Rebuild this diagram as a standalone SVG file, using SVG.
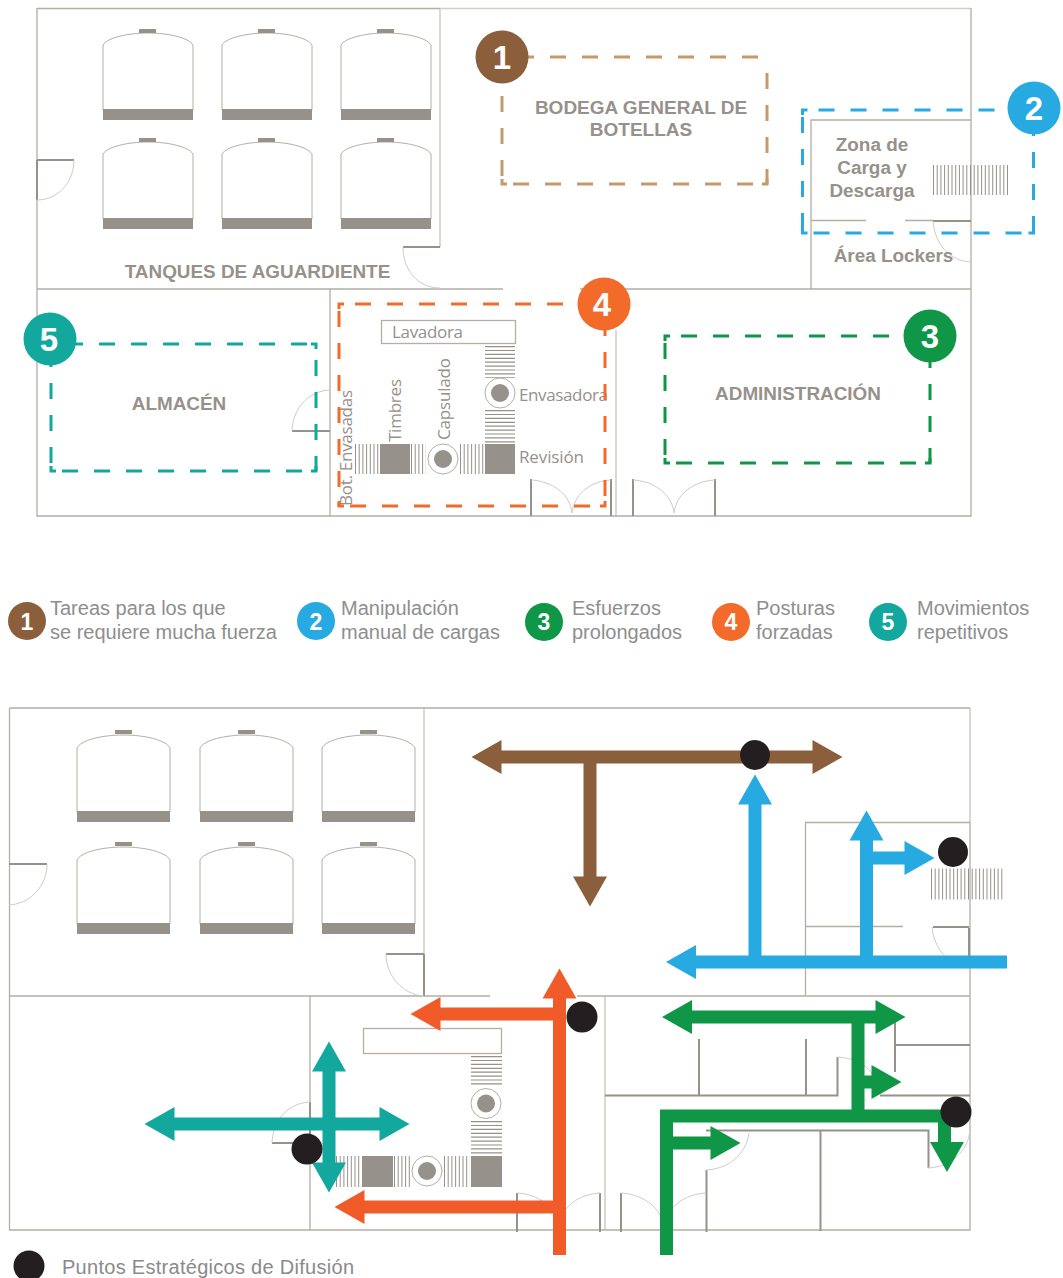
<svg xmlns="http://www.w3.org/2000/svg" width="1063" height="1278" viewBox="0 0 1063 1278">
<style>
.w{fill:none;stroke:#b3aea6;stroke-width:1.3}
.wl{fill:none;stroke:#d2cfca;stroke-width:1.6}
.t{fill:none;stroke:#96918a;stroke-width:2}
.a{fill:none;stroke:#cfccc7;stroke-width:1}
.s{fill:#96918a}
.hv{fill:none;stroke:#96918a;stroke-dasharray:1 2.7}
.hh{fill:none;stroke:#96918a;stroke-dasharray:1.2 2.7}
.ring{fill:#fff;stroke:#b3aea6;stroke-width:1}
.lb{font-family:"Liberation Sans",Arial,sans-serif;font-weight:700;fill:#96918a;text-anchor:middle}
.my{font-family:"Open Sans",sans-serif;fill:#96918a;font-size:17px}
.lg{font-family:"Liberation Sans",Arial,sans-serif;fill:#8e8e8e;font-size:20px}
.n{font-family:"Liberation Sans",Arial,sans-serif;font-weight:700;fill:#fff;text-anchor:middle}
.d{fill:none;stroke-width:3;stroke-dasharray:16 16;stroke-dashoffset:16}
.c{fill:none;stroke-width:3}
.ar{fill:none;stroke-width:13}
.ar line{stroke-width:13}
</style>
<defs>
<symbol id="tank" overflow="visible" viewBox="0 0 90 92" width="90" height="92">
<path d="M0 16C4 9 24 4 45 4S86 9 90 16V81M0 16V81" fill="none" stroke="#b3aea6" stroke-width="1"/>
<rect x="36" y="0" width="17" height="4" class="s"/><rect x="0" y="80" width="90" height="11" class="s"/>
</symbol>
<symbol id="tankb" overflow="visible" viewBox="0 0 93 92" width="93" height="92">
<path d="M0 18C4 10 25 5 46.500 5S89 10 93 18V82M0 18V82" fill="none" stroke="#b3aea6" stroke-width="1"/>
<rect x="38" y="0" width="17" height="4" class="s"/><rect x="0" y="81" width="93" height="11" class="s"/>
</symbol>
<marker id="mB" markerUnits="userSpaceOnUse" markerWidth="31" markerHeight="34" refX="0.500" refY="17" orient="auto-start-reverse" overflow="visible"><path d="M0 0L30 17L0 34Z" fill="#8b5e3c"/></marker>
<marker id="mC" markerUnits="userSpaceOnUse" markerWidth="31" markerHeight="34" refX="0.500" refY="17" orient="auto-start-reverse" overflow="visible"><path d="M0 0L30 17L0 34Z" fill="#27aae1"/></marker>
<marker id="mG" markerUnits="userSpaceOnUse" markerWidth="31" markerHeight="34" refX="0.500" refY="17" orient="auto-start-reverse" overflow="visible"><path d="M0 0L30 17L0 34Z" fill="#0f9647"/></marker>
<marker id="mO" markerUnits="userSpaceOnUse" markerWidth="31" markerHeight="34" refX="0.500" refY="17" orient="auto-start-reverse" overflow="visible"><path d="M0 0L30 17L0 34Z" fill="#f15a29"/></marker>
<marker id="mT" markerUnits="userSpaceOnUse" markerWidth="31" markerHeight="34" refX="0.500" refY="17" orient="auto-start-reverse" overflow="visible"><path d="M0 0L30 17L0 34Z" fill="#13a89e"/></marker>
</defs>

<g id="plano-superior">
<path class="wl" d="M440 8.500H971M440 8V247M616 330V516"/>
<path class="w" d="M37 8.500H440M37 8V516H971V8M37 289H503M580 289H971M330 289V516M811 289V120H971M811 220.500H866M905 220.500H933"/>
<path class="t" d="M37 160H74M37 160V200M403 247H440M933 221H971M292 431H330M531 479V516M611 479V516M633 479V516M715 479V516"/>
<path class="a" d="M74 160C74 182 58 200 37 200M403 247C403 270 418 288 440 288M933 221C935 245 950 261 971 262M292 431C293 408 308 391 330 390M531 480C552 481 570 494 572 513C574 494 591 481 611 480M633 480C654 481 672 494 674 513C676 494 694 481 715 480"/>
<use href="#tank" x="103" y="29"/><use href="#tank" x="222" y="29"/><use href="#tank" x="341" y="29"/>
<use href="#tank" x="103" y="138"/><use href="#tank" x="222" y="138"/><use href="#tank" x="341" y="138"/>
<rect x="381.500" y="320.500" width="134" height="23" fill="#fff" class="w"/>
<line class="hv" x1="933" y1="180" x2="1008" y2="180" stroke-width="30"/>
<g id="linea-envasado-sup">
<line class="hh" x1="500" y1="346" x2="500" y2="378" stroke-width="30"/>
<line class="hh" x1="500" y1="410" x2="500" y2="444" stroke-width="30"/>
<line class="hv" x1="355" y1="459" x2="379" y2="459" stroke-width="30"/>
<line class="hv" x1="411" y1="459" x2="426" y2="459" stroke-width="30"/>
<line class="hv" x1="460" y1="459" x2="484" y2="459" stroke-width="30"/>
<rect class="s" x="380" y="444" width="30" height="30"/><rect class="s" x="485" y="444" width="30" height="30"/>
<circle class="ring" cx="500" cy="393" r="15"/><circle class="s" cx="500" cy="393" r="9"/>
<circle class="ring" cx="443" cy="459" r="15"/><circle class="s" cx="443" cy="459" r="9"/>
</g>
<text class="lb" font-size="18.900" x="257.500" y="278">TANQUES DE AGUARDIENTE</text>
<text class="lb" font-size="19" x="641" y="114">BODEGA GENERAL DE</text>
<text class="lb" font-size="19" x="641" y="136">BOTELLAS</text>
<text class="lb" font-size="18.900" x="872" y="151">Zona de</text>
<text class="lb" font-size="18.900" x="872" y="174">Carga y</text>
<text class="lb" font-size="18.900" x="872" y="197">Descarga</text>
<text class="lb" font-size="18.900" x="893.500" y="262">Área Lockers</text>
<text class="lb" font-size="18.900" x="179" y="410">ALMACÉN</text>
<text class="lb" font-size="18.900" x="798" y="400">ADMINISTRACIÓN</text>
<text class="my" x="392" y="338" textLength="71">Lavadora</text>
<text class="my" x="519" y="401" textLength="89">Envasadora</text>
<text class="my" x="519" y="463" textLength="65">Revisión</text>
<text class="my" transform="translate(351.500 506) rotate(-90)" textLength="116">Bot. Envasadas</text>
<text class="my" transform="translate(400.500 442) rotate(-90)" textLength="63">Timbres</text>
<text class="my" transform="translate(450 440) rotate(-90)" textLength="82">Capsulado</text>
</g>

<g id="zonas-riesgo">
<g id="zona-1" stroke="#c49a6c"><path class="d" d="M502 57H767M502 48V184M767 57V184M497 184H767"/><path class="c" d="M767 179V184H762M502 179V184H507"/><circle cx="502" cy="57" r="26.500" fill="#8b5e3c" stroke="none"/><text class="n" x="502" y="68.500" font-size="33" stroke="none">1</text></g>
<g id="zona-2" stroke="#27aae1"><path class="d" d="M802.500 110H1033.500M802.500 101V233M1033.500 104V233M797.500 233H1033.500"/><path class="c" d="M802.500 115V110H807.500M802.500 228V233H807.500M1033.500 228V233H1028.500"/><circle cx="1034" cy="108" r="26.500" fill="#27aae1" stroke="none"/><text class="n" x="1034" y="119.500" font-size="33" stroke="none">2</text></g>
<g id="zona-3" stroke="#0f9647"><path class="d" d="M665 336H930M665 327V463M930 336V463M660 463H930"/><path class="c" d="M665 341V336H670M665 458V463H670M930 458V463H925"/><circle cx="930" cy="336" r="26.500" fill="#0f9647" stroke="none"/><text class="n" x="930" y="347.500" font-size="33" stroke="none">3</text></g>
<g id="zona-4" stroke="#f26b2a"><path class="d" d="M339 304H605M339 295V506M605 304V506M334 506H605"/><path class="c" d="M339 309V304H344M339 501V506H344M605 501V506H600"/><circle cx="604" cy="304" r="26.500" fill="#f26b2a" stroke="none"/><text class="n" x="602" y="315.500" font-size="33" stroke="none">4</text></g>
<g id="zona-5" stroke="#13a89e"><path class="d" d="M51 344H316M51 335V471M316 344V471M46 471H316"/><path class="c" d="M316 349V344H311M51 466V471H56M316 466V471H311"/><circle cx="50" cy="339" r="26.500" fill="#13a89e" stroke="none"/><text class="n" x="49" y="350.500" font-size="33" stroke="none">5</text></g>
</g>

<g id="leyenda">
<g id="ley-1"><circle cx="27" cy="621" r="19" fill="#8b5e3c"/><text class="n" x="27" y="630" font-size="23">1</text><text class="lg" x="50" y="615">Tareas para los que</text><text class="lg" x="50" y="639">se requiere mucha fuerza</text></g>
<g id="ley-2"><circle cx="316" cy="621" r="19" fill="#27aae1"/><text class="n" x="316" y="630" font-size="23">2</text><text class="lg" x="341" y="615">Manipulación</text><text class="lg" x="341" y="639">manual de cargas</text></g>
<g id="ley-3"><circle cx="544" cy="622" r="19" fill="#0f9647"/><text class="n" x="544" y="630" font-size="23">3</text><text class="lg" x="572" y="615">Esfuerzos</text><text class="lg" x="572" y="639">prolongados</text></g>
<g id="ley-4"><circle cx="731" cy="622" r="19" fill="#f26b2a"/><text class="n" x="731" y="630" font-size="23">4</text><text class="lg" x="756" y="615">Posturas</text><text class="lg" x="756" y="639">forzadas</text></g>
<g id="ley-5"><circle cx="888" cy="622" r="19" fill="#13a89e"/><text class="n" x="888" y="630" font-size="23">5</text><text class="lg" x="917" y="615">Movimientos</text><text class="lg" x="917" y="639">repetitivos</text></g>
</g>

<g id="plano-inferior">
<path class="wl" d="M424 708V954M605 996V1230M970 708V822"/>
<path class="w" d="M9.500 708H970M9.500 708V1230H970V822M9.500 996H490M577 996H970M310 996V1230M805.500 996V822.500H970M805.500 926.500H903"/>
<path class="t" d="M9 864H47M386 954H424M424 954V996M272 1143H310M310 1102V1143M517 1193V1232M600 1193V1232M621 1193V1232M706.500 1170V1232M605 1095.500H837.500V1057M699 1039V1095M806 1039V1095M895 1020V1072M895 1045H970M880 1095.500H970M706 1130.500H928.500V1168M820.500 1130V1231M933 927H969M969 928V968"/>
<path class="a" d="M47 864C47 886 30 904 9 905M386 954C386 976 403 995 424 996M932 927C934 948 948 966 969 968M272 1143C273 1120 288 1103 310 1102M517 1193C538 1194 556 1207 559 1226M600 1193C579 1194 561 1207 559 1226M621 1193C642 1194 661 1207 664 1226M706 1193C685 1194 667 1207 664 1226M837 1057C855 1058 870 1066 873 1077M706 1170C728 1169 746 1155 749 1133M928 1168C950 1167 968 1152 970 1130"/>
<use href="#tankb" x="77" y="730"/><use href="#tankb" x="200" y="730"/><use href="#tankb" x="322" y="730"/>
<use href="#tankb" x="77" y="842"/><use href="#tankb" x="200" y="842"/><use href="#tankb" x="322" y="842"/>
<rect x="363.500" y="1028.500" width="138" height="25" fill="#fff" class="w"/>
<line class="hv" x1="931" y1="884" x2="1005" y2="884" stroke-width="31"/>
<g id="linea-envasado-inf">
<line class="hh" x1="486.500" y1="1056" x2="486.500" y2="1087" stroke-width="31"/>
<line class="hh" x1="486.500" y1="1121" x2="486.500" y2="1155" stroke-width="31"/>
<line class="hv" x1="336" y1="1171.500" x2="361" y2="1171.500" stroke-width="31"/>
<line class="hv" x1="394" y1="1171.500" x2="410" y2="1171.500" stroke-width="31"/>
<line class="hv" x1="444" y1="1171.500" x2="470" y2="1171.500" stroke-width="31"/>
<rect class="s" x="362" y="1156" width="31" height="31"/><rect class="s" x="471" y="1156" width="31" height="31"/>
<circle class="ring" cx="486" cy="1103.500" r="15"/><circle class="s" cx="486" cy="1103.500" r="9"/>
<circle class="ring" cx="427" cy="1171" r="15"/><circle class="s" cx="427" cy="1171" r="9"/>
</g>
</g>

<g id="conectores">
<g class="ar" stroke="#8b5e3c">
<line x1="501" y1="757" x2="813" y2="757" marker-start="url(#mB)" marker-end="url(#mB)"/>
<line x1="590" y1="757" x2="590" y2="877" marker-end="url(#mB)"/>
</g>
<g class="ar" stroke="#27aae1">
<line x1="1007" y1="962" x2="695.500" y2="962" marker-end="url(#mC)"/>
<line x1="755" y1="962" x2="755" y2="804" marker-end="url(#mC)"/>
<line x1="866.500" y1="962" x2="866.500" y2="840" marker-end="url(#mC)"/>
<line x1="866" y1="858" x2="905" y2="858" marker-end="url(#mC)"/>
</g>
<g class="ar" stroke="#0f9647">
<line x1="691.500" y1="1017" x2="876" y2="1017" marker-start="url(#mG)" marker-end="url(#mG)"/>
<line x1="858" y1="1017" x2="858" y2="1116"/>
<line x1="858" y1="1082" x2="872" y2="1082" marker-end="url(#mG)"/>
<path d="M666.500 1255V1116H944.500V1142" />
<line x1="666" y1="1143" x2="711" y2="1143" marker-end="url(#mG)"/>
<path d="M947 1172L930 1142H964Z" fill="#0f9647" stroke="none"/>
</g>
<g class="ar" stroke="#f15a29">
<line x1="559.500" y1="1255" x2="559.500" y2="998" marker-end="url(#mO)"/>
<line x1="559" y1="1014" x2="440" y2="1014" marker-end="url(#mO)"/>
<line x1="559" y1="1207" x2="364" y2="1207" marker-end="url(#mO)"/>
</g>
<g class="ar" stroke="#13a89e">
<line x1="174" y1="1124" x2="380" y2="1124" marker-start="url(#mT)" marker-end="url(#mT)"/>
<line x1="329" y1="1071" x2="329" y2="1163" marker-start="url(#mT)" marker-end="url(#mT)"/>
</g>
</g>

<g id="puntos-difusion" fill="#231f20">
<circle cx="755" cy="755" r="15"/><circle cx="953" cy="852" r="15"/><circle cx="956" cy="1112" r="15.500"/><circle cx="582" cy="1017" r="15.500"/><circle cx="307" cy="1149" r="15.500"/>
<circle cx="29" cy="1266" r="15.500"/>
<text class="lg" x="62" y="1274" textLength="292" style="fill:#8a8a8a">Puntos Estratégicos de Difusión</text>
</g>
</svg>
